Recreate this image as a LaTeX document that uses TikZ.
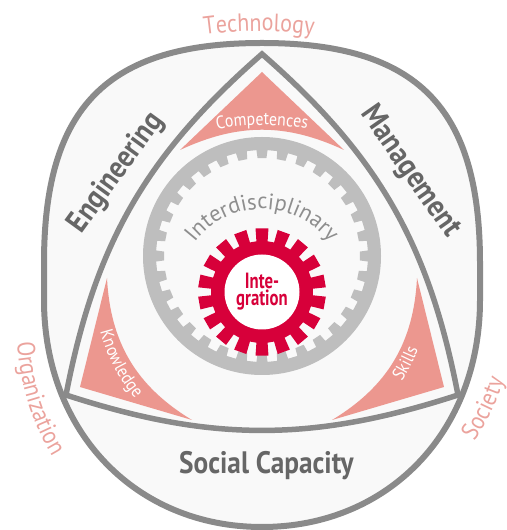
\documentclass[tikz,border=0pt]{standalone}
\usepackage{fontspec}
\setmainfont{PT Sans}
\setsansfont{PT Sans}
\newfontfamily\labelfont[FakeStretch=0.88]{PT Sans}
\newfontfamily\narrowfont[FakeStretch=0.76]{PT Sans}
\usetikzlibrary{decorations.text}
\definecolor{linegray}{HTML}{8A8A8A}
\definecolor{panel}{HTML}{F9F9F9}
\definecolor{salmon}{HTML}{EC978F}
\definecolor{lightsalmon}{HTML}{EBA39D}
\definecolor{crimson}{HTML}{D7003A}
\definecolor{ringgray}{HTML}{BEBEBE}
\definecolor{textgray}{HTML}{666666}
\definecolor{ringtext}{HTML}{8E8E8E}
\newcommand{\fieldfont}{\labelfont\fontsize{25}{25}\selectfont}
\newcommand{\cornerfont}{\labelfont\fontsize{18}{18}\selectfont}
\newcommand{\ringfont}{\rmfamily\fontsize{22.5}{22.5}\selectfont}
\tikzset{
  border/.style={draw=linegray, line width=6, fill=panel},
  corner/.style={fill=salmon},
  band/.style={text=textgray, inner sep=0, font=\labelfont\bfseries\fontsize{31}{31}\selectfont},
  hub/.style={text=crimson, inner sep=0, align=center, font=\narrowfont\bfseries\fontsize{22}{17}\selectfont},
  curved/.style={decorate, decoration={text along path, text align=center, text={#1}}}
}

\begin{document}
\begin{tikzpicture}[x=1pt, y=1pt]
  \useasboundingbox (0,0) rectangle (506,530);
  % outer band
  \path[border] (262,487) .. controls (107.2,487) and (44,423.2) .. (44,267) -- (44,230)
    .. controls (44,98.3) and (135.6,3) .. (262,3) .. controls (388.4,3) and (480,98.3) .. (480,230)
    -- (480,267) .. controls (480,423.2) and (416.8,487) .. (262,487) -- cycle;
  % inner curved triangle
  \coordinate (top) at (262,476);
  \coordinate (left) at (66,135);
  \coordinate (right) at (458,135);
  \draw[linegray, line width=5.5] (top) to[bend right=19] (left) to[bend right=18] (right) to[bend right=19] (top) -- cycle;
  % corners
  \fill[corner] (262,458) -- (180,380) to[bend left=25] (344,380) -- cycle;
  \fill[corner] (107,252) to[bend right=28] (192,110) -- (80,143) -- cycle;
  \fill[corner] (417,252) to[bend left=28] (332,110) -- (444,143) -- cycle;
  % ring gear
  \begin{scope}[shift={(262,274)}]
    \fill[ringgray, even odd rule] (0,0) circle[radius=119]
      (87:106) \foreach \i in {0,...,31} { -- ({90+11.25*\i-3}:106) -- ({90+11.25*\i-2.6}:98)
        -- ({90+11.25*\i+2.6}:98) -- ({90+11.25*\i+3}:106) } -- cycle;
  \end{scope}
  % red gear
  \begin{scope}[shift={(262,238)}]
    \fill[crimson] (83.7:51) \foreach \i in {0,...,17} { -- ({90+20*\i-6.3}:51) -- ({90+20*\i-5.8}:64)
      -- ({90+20*\i+5.8}:64) -- ({90+20*\i+6.3}:51) } -- cycle;
    \fill[white] (0,0) circle[radius=37.5];
  \end{scope}
  \node[hub] (integration) at (262,238) {Inte-\\gration};
  % labels
  \node[band, rotate=54] (engineering) at (116.5,357) {Engineering};
  \node[band, rotate=-55] (management) at (410,358) {Management};
  \node[band] (social) at (266.5,64) {Social Capacity};
  \path[curved={|\ringfont|Interdisciplinary}, decoration={text color=ringtext}]
    (262,236) ++(155:85) arc[start angle=155, end angle=25, radius=85];
  \path[curved={|\cornerfont|Competences}, decoration={text color=white}]
    (262,155) ++(105:250) arc[start angle=105, end angle=75, radius=250];
  \path[curved={|\cornerfont|Knowledge}, decoration={text color=white}]
    (262,240) ++(180:167) arc[start angle=180, end angle=235, radius=167];
  \path[curved={|\cornerfont|Skills}, decoration={text color=white}]
    (262,240) ++(306:167) arc[start angle=306, end angle=360, radius=167];
  \path[curved={|\fieldfont|Technology}, decoration={text color=lightsalmon}]
    (259,99) ++(100:400) arc[start angle=100, end angle=80, radius=400];
  \path[curved={|\fieldfont|Organization}, decoration={text color=lightsalmon}]
    (262,200) ++(172:245) arc[start angle=172, end angle=222, radius=245];
  \path[curved={|\fieldfont|Society}, decoration={text color=lightsalmon}]
    (262,230) ++(309:255) arc[start angle=309, end angle=359, radius=255];
\end{tikzpicture}
\end{document}
